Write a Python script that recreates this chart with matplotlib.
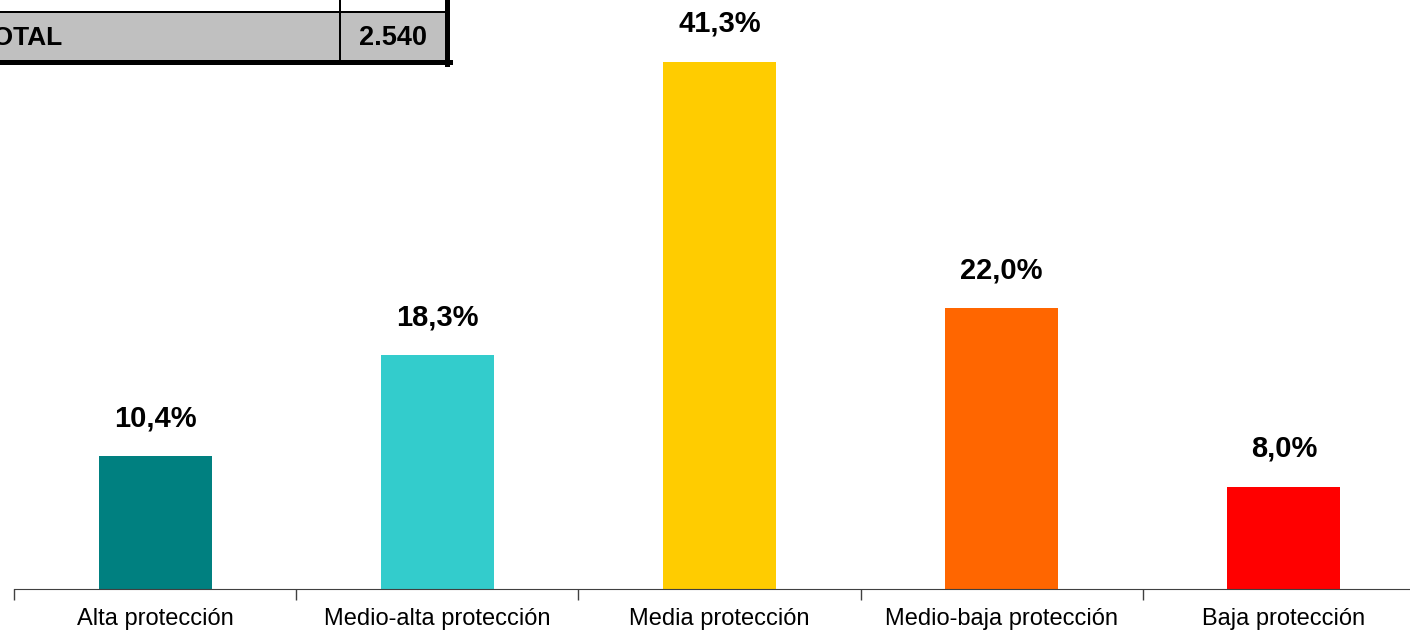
import matplotlib.pyplot as plt
from matplotlib.patches import Rectangle
from matplotlib.lines import Line2D

plt.rcParams['font.family'] = ['Liberation Sans', 'DejaVu Sans']

categorias = ['Alta protección', 'Medio-alta protección', 'Media protección',
              'Medio-baja protección', 'Baja protección']
valores = [10.4, 18.3, 41.3, 22.0, 8.0]
etiquetas = ['10,4%', '18,3%', '41,3%', '22,0%', '8,0%']
colores = ['#008080', '#33CCCC', '#FFCC00', '#FF6600', '#FF0000']
total_texto = 'TOTAL'
total_valor = '2.540'

W, H = 1410, 631
fig = plt.figure(figsize=(W / 100, H / 100), dpi=100)

# axes in pixel units: baseline at y=589, categories 282.2 px wide starting at x=14
x0, cw, base = 14, 282.2, 589
ax = fig.add_axes([x0 / W, 1 - base / H, 5 * cw / W, base / H])
pos = list(range(len(categorias)))
ax.bar(pos, valores, width=0.4, color=colores)
for p, v, t in zip(pos, valores, etiquetas):
    ax.text(p, v + 1.9, t, ha='center', va='bottom', fontsize=21, fontweight='bold')

ax.set_xlim(-0.5, 4.5)
ax.set_ylim(0, base / 12.76)
for s in ['left', 'right', 'top']:
    ax.spines[s].set_visible(False)
ax.spines['bottom'].set_color('#404040')
ax.set_yticks([])
ax.set_xticks(pos)
ax.set_xticklabels(categorias, fontsize=17)
ax.tick_params(axis='x', which='major', length=0, pad=14)
ax.set_xticks([i - 0.5 for i in range(6)], minor=True)
ax.tick_params(axis='x', which='minor', length=8, width=1, color='#404040', direction='out')


def fx(x):
    return x / W


def fy(y):
    return 1 - y / H


# partial table in the top-left corner
fig.patches.append(Rectangle((fx(-10), fy(62)), fx(456), 50 / H, transform=fig.transFigure,
                             facecolor='#C0C0C0', edgecolor='none', zorder=1))
lines = [
    ([-10, 447], [12, 12], 2),
    ([-10, 450], [62, 62], 5),
    ([340, 340], [-5, 62], 2),
    ([447, 447], [-5, 64], 5),
]
for xs, ys, lw in lines:
    fig.add_artist(Line2D([fx(x) for x in xs], [fy(y) for y in ys], color='black',
                          linewidth=lw * 0.72, transform=fig.transFigure, zorder=2))
fig.text(fx(-22), fy(38), total_texto, ha='left', va='center', fontsize=19, fontweight='bold')
fig.text(fx(427), fy(38), total_valor, ha='right', va='center', fontsize=19.5, fontweight='bold')

fig.savefig('out.png', dpi=100)
